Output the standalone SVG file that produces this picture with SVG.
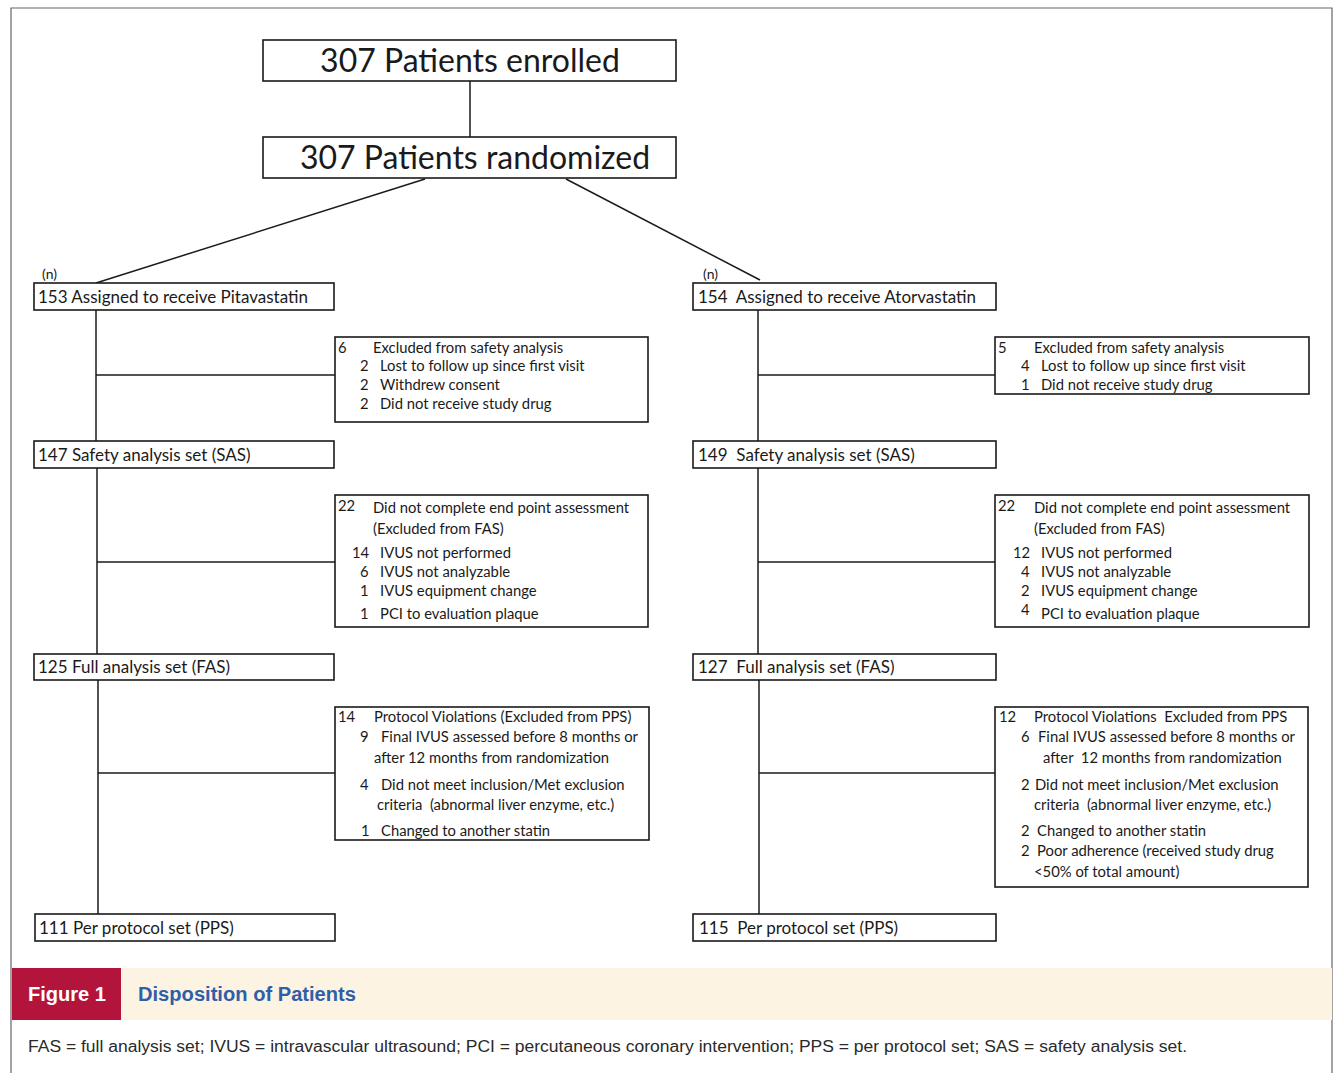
<svg xmlns="http://www.w3.org/2000/svg" width="1336" height="1073" viewBox="0 0 1336 1073">
<style>
text{white-space:pre}
.box{fill:#fff;stroke:#1a1a1a;stroke-width:1.6}
.ln{stroke:#1a1a1a;stroke-width:1.5;fill:none}
.big{font-family:Lato,"Open Sans",sans-serif;font-size:32px;fill:#1a1a1a}
.t{font-family:Lato,"Open Sans",sans-serif;font-size:17px;fill:#1a1a1a}
.s{font-family:Lato,"Open Sans",sans-serif;font-size:14.8px;fill:#1a1a1a}
.n{font-family:Lato,"Open Sans",sans-serif;font-size:14px;fill:#1a1a1a}
.fn{font-family:"Liberation Sans",Arial,sans-serif;font-size:16px;fill:#2a2a2a}
</style>
<rect x="0" y="0" width="1336" height="1073" fill="#fff"/>
<path d="M11,1073 V8 H1332 V1073" fill="none" stroke="#666" stroke-width="1.2"/>

<g id="connectors">
<line class="ln" x1="470" y1="81" x2="470" y2="137"/>
<line class="ln" x1="425" y1="179" x2="96" y2="283"/>
<line class="ln" x1="566" y1="179" x2="760" y2="280"/>
<line class="ln" x1="96" y1="310" x2="96" y2="441"/>
<line class="ln" x1="96" y1="375" x2="335" y2="375"/>
<line class="ln" x1="97" y1="468" x2="97" y2="654"/>
<line class="ln" x1="97" y1="562" x2="335" y2="562"/>
<line class="ln" x1="98" y1="680" x2="98" y2="914"/>
<line class="ln" x1="98" y1="773" x2="335" y2="773"/>
<line class="ln" x1="758" y1="310" x2="758" y2="441"/>
<line class="ln" x1="758" y1="375" x2="995" y2="375"/>
<line class="ln" x1="758" y1="468" x2="758" y2="654"/>
<line class="ln" x1="758" y1="562" x2="995" y2="562"/>
<line class="ln" x1="759" y1="680" x2="759" y2="914"/>
<line class="ln" x1="759" y1="773" x2="995" y2="773"/>
</g>

<g id="enrolled">
<rect class="box" x="263" y="40" width="413" height="41"/>
<text class="big" x="470" y="72" text-anchor="middle">307 Patients enrolled</text>
</g>
<g id="randomized">
<rect class="box" x="263" y="137" width="413" height="41"/>
<text class="big" x="475" y="169" text-anchor="middle">307 Patients randomized</text>
</g>

<g id="pita">
<text class="n" x="42" y="279">(n)</text>
<rect class="box" x="34" y="283" width="300" height="27"/>
<text class="t" x="38" y="303">153 Assigned to receive Pitavastatin</text>
</g>
<g id="ator">
<text class="n" x="703" y="279">(n)</text>
<rect class="box" x="693" y="283" width="303" height="27"/>
<text class="t" x="698" y="303">154  Assigned to receive Atorvastatin</text>
</g>

<g id="excl-safety-left">
<rect class="box" x="335" y="337" width="313" height="85"/>
<text class="s" x="338" y="353">6</text>
<text class="s" x="373" y="353">Excluded from safety analysis</text>
<text class="s" x="360" y="371">2</text><text class="s" x="380" y="371">Lost to follow up since first visit</text>
<text class="s" x="360" y="390">2</text><text class="s" x="380" y="390">Withdrew consent</text>
<text class="s" x="360" y="409">2</text><text class="s" x="380" y="409">Did not receive study drug</text>
</g>
<g id="excl-safety-right">
<rect class="box" x="995" y="337" width="314" height="57"/>
<text class="s" x="998" y="353">5</text>
<text class="s" x="1034" y="353">Excluded from safety analysis</text>
<text class="s" x="1021" y="371">4</text><text class="s" x="1041" y="371">Lost to follow up since first visit</text>
<text class="s" x="1021" y="390">1</text><text class="s" x="1041" y="390">Did not receive study drug</text>
</g>

<g id="sas-left">
<rect class="box" x="34" y="441" width="300" height="27"/>
<text class="t" x="38" y="461">147 Safety analysis set (SAS)</text>
</g>
<g id="sas-right">
<rect class="box" x="693" y="441" width="303" height="27"/>
<text class="t" x="698" y="461">149  Safety analysis set (SAS)</text>
</g>

<g id="excl-fas-left">
<rect class="box" x="335" y="495" width="313" height="132"/>
<text class="s" x="338" y="511">22</text>
<text class="s" x="373" y="513">Did not complete end point assessment</text>
<text class="s" x="373" y="534">(Excluded from FAS)</text>
<text class="s" x="352" y="558">14</text><text class="s" x="380" y="558">IVUS not performed</text>
<text class="s" x="360" y="577">6</text><text class="s" x="380" y="577">IVUS not analyzable</text>
<text class="s" x="360" y="596">1</text><text class="s" x="380" y="596">IVUS equipment change</text>
<text class="s" x="360" y="619">1</text><text class="s" x="380" y="619">PCI to evaluation plaque</text>
</g>
<g id="excl-fas-right">
<rect class="box" x="995" y="495" width="314" height="132"/>
<text class="s" x="998" y="511">22</text>
<text class="s" x="1034" y="513">Did not complete end point assessment</text>
<text class="s" x="1034" y="534">(Excluded from FAS)</text>
<text class="s" x="1013" y="558">12</text><text class="s" x="1041" y="558">IVUS not performed</text>
<text class="s" x="1021" y="577">4</text><text class="s" x="1041" y="577">IVUS not analyzable</text>
<text class="s" x="1021" y="596">2</text><text class="s" x="1041" y="596">IVUS equipment change</text>
<text class="s" x="1021" y="615">4</text><text class="s" x="1041" y="619">PCI to evaluation plaque</text>
</g>

<g id="fas-left">
<rect class="box" x="34" y="654" width="300" height="26"/>
<text class="t" x="38" y="673">125 Full analysis set (FAS)</text>
</g>
<g id="fas-right">
<rect class="box" x="693" y="654" width="303" height="26"/>
<text class="t" x="698" y="673">127  Full analysis set (FAS)</text>
</g>

<g id="excl-pps-left">
<rect class="box" x="335" y="707" width="314" height="133"/>
<text class="s" x="338" y="722">14</text>
<text class="s" x="374" y="722">Protocol Violations (Excluded from PPS)</text>
<text class="s" x="360" y="742">9</text><text class="s" x="381" y="742">Final IVUS assessed before 8 months or</text>
<text class="s" x="374" y="763">after 12 months from randomization</text>
<text class="s" x="360" y="790">4</text><text class="s" x="381" y="790">Did not meet inclusion/Met exclusion</text>
<text class="s" x="377" y="810">criteria  (abnormal liver enzyme, etc.)</text>
<text class="s" x="361" y="836">1</text><text class="s" x="381" y="836">Changed to another statin</text>
</g>
<g id="excl-pps-right">
<rect class="box" x="995" y="707" width="313" height="180"/>
<text class="s" x="999" y="722">12</text>
<text class="s" x="1034" y="722">Protocol Violations  Excluded from PPS</text>
<text class="s" x="1021" y="742">6</text><text class="s" x="1038" y="742">Final IVUS assessed before 8 months or</text>
<text class="s" x="1043" y="763">after  12 months from randomization</text>
<text class="s" x="1021" y="790">2</text><text class="s" x="1035" y="790">Did not meet inclusion/Met exclusion</text>
<text class="s" x="1034" y="810">criteria  (abnormal liver enzyme, etc.)</text>
<text class="s" x="1021" y="836">2</text><text class="s" x="1037" y="836">Changed to another statin</text>
<text class="s" x="1021" y="856">2</text><text class="s" x="1037" y="856">Poor adherence (received study drug</text>
<text class="s" x="1034" y="877">&lt;50% of total amount)</text>
</g>

<g id="pps-left">
<rect class="box" x="35" y="914" width="300" height="27"/>
<text class="t" x="39" y="934">111 Per protocol set (PPS)</text>
</g>
<g id="pps-right">
<rect class="box" x="693" y="914" width="303" height="27"/>
<text class="t" x="699" y="934">115  Per protocol set (PPS)</text>
</g>

<g id="caption">
<rect x="121" y="968" width="1211" height="52" fill="#fdf3e2"/>
<rect x="12" y="968" width="109" height="52" fill="#b3143c"/>
<text x="28" y="1001" font-family="'Liberation Sans',Arial,sans-serif" font-size="20" font-weight="bold" fill="#fff" textLength="78" lengthAdjust="spacingAndGlyphs">Figure 1</text>
<text x="138" y="1001" font-family="'Liberation Sans',Arial,sans-serif" font-size="20" font-weight="bold" fill="#2e5fa8" textLength="218" lengthAdjust="spacingAndGlyphs">Disposition of Patients</text>
<text class="fn" x="28" y="1052" textLength="1159" lengthAdjust="spacingAndGlyphs">FAS = full analysis set; IVUS = intravascular ultrasound; PCI = percutaneous coronary intervention; PPS = per protocol set; SAS = safety analysis set.</text>
</g>
</svg>
